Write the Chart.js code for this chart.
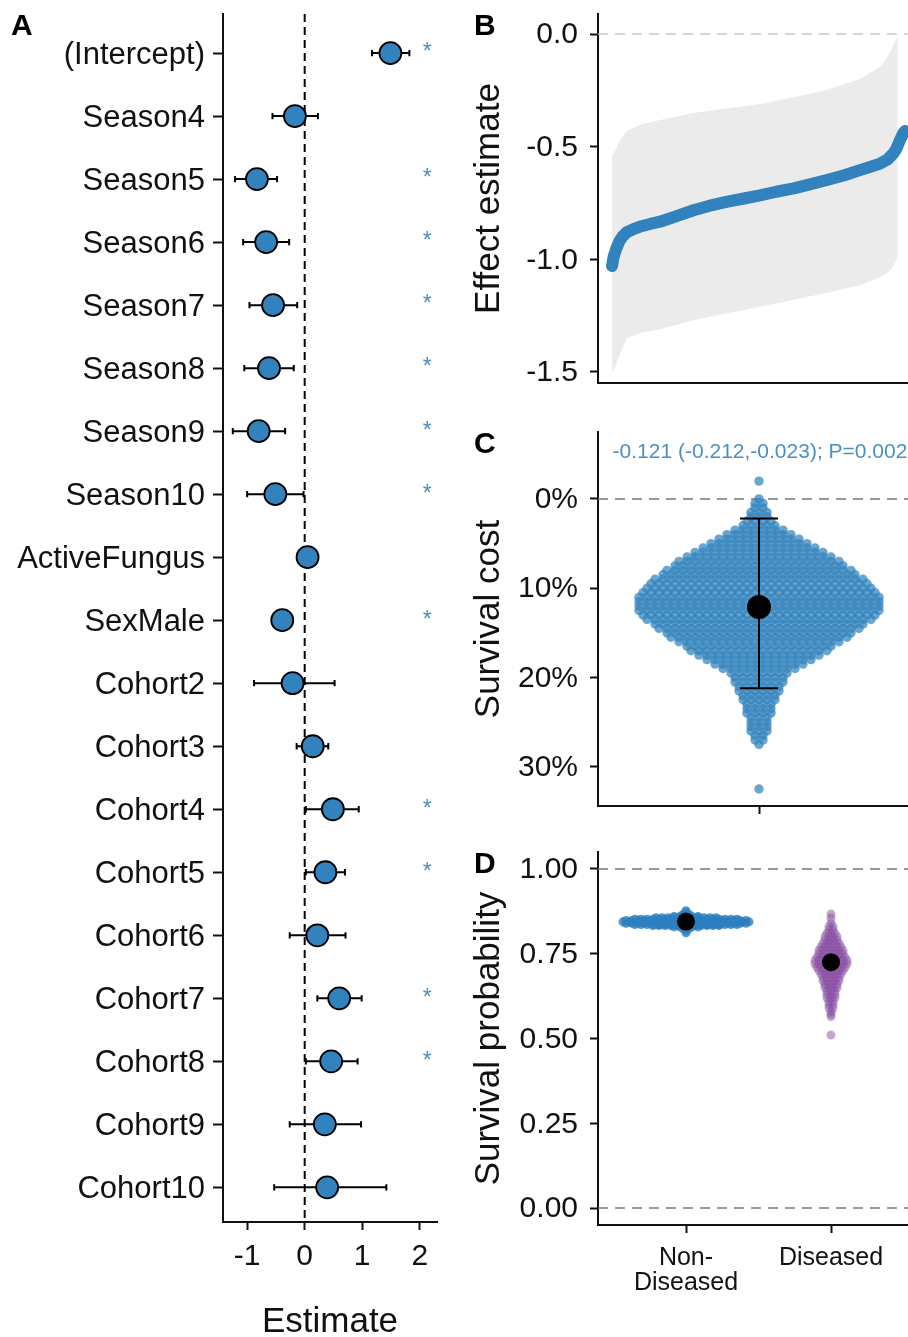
<!DOCTYPE html>
<html>
<head>
<meta charset="utf-8">
<title>Survival cost figure</title>
<script src="https://cdn.jsdelivr.net/npm/chart.js@4.4.1/dist/chart.umd.min.js"></script>
<style>
  html, body { margin: 0; padding: 0; background: #fff; }
  body { position: relative; width: 908px; height: 1337px; overflow: hidden;
         font-family: 'Liberation Sans', Arial, sans-serif; color: #000; }
  canvas { position: absolute; }
  .tag { position: absolute; font-size: 30px; font-weight: bold; line-height: 1; }
  #note { position: absolute; left: 760px; top: 440px; transform: translateX(-50%);
          font-size: 21px; line-height: 1; color: #4a90c4; white-space: nowrap; }
</style>
</head>
<body>
<canvas id="chartA" width="460" height="1337" style="left:0;top:0"></canvas>
<canvas id="chartB" width="448" height="400" style="left:460px;top:0"></canvas>
<canvas id="chartC" width="448" height="420" style="left:460px;top:400px"></canvas>
<canvas id="chartD" width="448" height="517" style="left:460px;top:820px"></canvas>
<div class="tag" style="left:11px;top:10px">A</div>
<div class="tag" style="left:474px;top:10px">B</div>
<div class="tag" style="left:474px;top:428px">C</div>
<div class="tag" style="left:474px;top:848px">D</div>
<div id="note">-0.121 (-0.212,-0.023); P=0.002</div>
<script>
// panel A - model coefficients with 95% intervals
const aTerms = ['(Intercept)', 'Season4', 'Season5', 'Season6', 'Season7', 'Season8', 'Season9',
  'Season10', 'ActiveFungus', 'SexMale', 'Cohort2', 'Cohort3', 'Cohort4', 'Cohort5', 'Cohort6',
  'Cohort7', 'Cohort8', 'Cohort9', 'Cohort10'];
const aEst  = [1.49, -0.17, -0.83, -0.67, -0.55, -0.62, -0.80, -0.51, 0.05, -0.39, -0.21, 0.14, 0.49, 0.36, 0.22, 0.60, 0.46, 0.35, 0.39];
const aLow  = [1.17, -0.56, -1.21, -1.07, -0.96, -1.05, -1.25, -1.00, 0.01, -0.43, -0.88, -0.14, 0.02, 0.02, -0.26, 0.22, 0.02, -0.26, -0.53];
const aHigh = [1.82, 0.23, -0.48, -0.27, -0.13, -0.19, -0.34, -0.02, 0.09, -0.35, 0.52, 0.41, 0.94, 0.70, 0.71, 0.99, 0.92, 0.98, 1.42];
const aSig  = [1, 0, 1, 1, 1, 1, 1, 1, 0, 1, 0, 0, 1, 1, 0, 1, 1, 0, 0];
const aXTicks = [-1, 0, 1, 2];

// panel B - sorted effect estimates with interval band
const bRank = [0, 0.5, 1.5, 2.5, 3.5, 5, 7.5, 10, 13, 16.4, 22, 27.8, 33, 39, 45, 50.5, 56, 62, 67.5, 73, 79, 84.6, 88, 91.5, 94, 96, 97, 98.3, 99.4, 100];
const bEst  = [-1.03, -0.99, -0.95, -0.92, -0.9, -0.88, -0.865, -0.853, -0.843, -0.833, -0.808, -0.782, -0.763, -0.745, -0.73, -0.716, -0.70, -0.685, -0.667, -0.649, -0.628, -0.604, -0.59, -0.575, -0.557, -0.53, -0.51, -0.47, -0.44, -0.43];
const bBandRank = [0, 1, 2.7, 5, 10, 16.4, 27.8, 39, 50.5, 62, 73, 84.6, 91.5, 94, 96, 97.5];
const bLow  = [-1.50, -1.48, -1.42, -1.35, -1.325, -1.31, -1.27, -1.24, -1.21, -1.18, -1.15, -1.115, -1.08, -1.06, -1.03, -0.99];
const bHigh = [-0.54, -0.52, -0.47, -0.43, -0.40, -0.382, -0.35, -0.33, -0.31, -0.28, -0.25, -0.20, -0.145, -0.10, -0.05, -0.01];
const bYTicks = [0, -0.5, -1, -1.5];

// panel C - survival cost draws (counts per 0.5% bin) and summary
const cBins = [-2, 0, 0.5, 1, 1.5, 2, 2.5, 3, 3.5, 4, 4.5, 5, 5.5, 6, 6.5, 7, 7.5, 8, 8.5, 9, 9.5, 10,
  10.5, 11, 11.5, 12, 12.5, 13, 13.5, 14, 14.5, 15, 15.5, 16, 16.5, 17, 17.5, 18, 18.5, 19, 19.5, 20,
  20.5, 21, 21.5, 22, 22.5, 23, 23.5, 24, 24.5, 25, 25.5, 26, 26.5, 27, 27.5, 32.5];
const cCounts = [1, 1, 2, 2, 3, 3, 4, 5, 7, 9, 11, 13, 15, 17, 19, 21, 22, 24, 25, 27, 28, 29,
  30, 31, 31, 31, 31, 30, 29, 27, 26, 24, 23, 21, 19, 18, 16, 14, 12, 10, 8, 7,
  7, 6, 6, 5, 5, 4, 4, 4, 3, 3, 3, 3, 2, 2, 1, 1];
const cMean = 12.1, cLow = 2.2, cHigh = 21.2;
const cYTicks = [0, 10, 20, 30];

// panel D - survival probability draws by group
const dCatLabels = [['Non-', 'Diseased'], 'Diseased'];
const dNonLevels = [0.812, 0.818, 0.824, 0.829, 0.833, 0.836, 0.840, 0.844, 0.848, 0.852, 0.856, 0.860, 0.866, 0.872, 0.877];
const dNonCounts = [1, 1, 2, 5, 12, 18, 21, 22, 21, 18, 11, 5, 2, 1, 1];
const dDisLevels = [0.51, 0.565, 0.572, 0.58, 0.59, 0.60, 0.61, 0.62, 0.63, 0.64, 0.65, 0.66, 0.67, 0.68,
  0.69, 0.70, 0.71, 0.72, 0.73, 0.74, 0.75, 0.76, 0.77, 0.78, 0.79, 0.80, 0.81, 0.82, 0.83, 0.84, 0.855, 0.867];
const dDisCounts = [1, 1, 1, 1, 2, 2, 2, 3, 3, 3, 4, 4, 5, 5, 6, 7, 8, 9, 9, 8, 7, 7, 6, 5, 4, 4, 3, 2, 2, 1, 1, 1];
const dMeans = [0.845, 0.725];
const dYTicks = [0, 0.25, 0.5, 0.75, 1];

// look & layout
const INK = '#111';
const BLUE = '#3182bd';
const FONT = "'Liberation Sans', Arial, sans-serif";
const dCatPos = [0, 145];

Chart.defaults.font.family = FONT;
Chart.defaults.color = INK;
Chart.defaults.animation = false;
Chart.defaults.events = [];
Chart.defaults.plugins.legend.display = false;
Chart.defaults.plugins.tooltip.enabled = false;

function fixSize(px) {
  return function (s) {
    if (s.isHorizontal()) s.height = px; else s.width = px;
    s.paddingLeft = s.paddingRight = s.paddingTop = s.paddingBottom = 0;
  };
}

function setTicks(values) {
  return function (s) { s.ticks = values.map(v => ({ value: v })); };
}

// turn [x1, y1, x2, y2] pieces into one broken line
function segments(list) {
  const pts = [];
  list.forEach(s => pts.push({ x: s[0], y: s[1] }, { x: s[2], y: s[3] }, { x: null, y: null }));
  return pts;
}

// side by side layout of points that share a value
function swarm(levels, counts, center, gap) {
  const pts = [];
  levels.forEach((lv, i) => {
    const n = counts[i];
    for (let k = 0; k < n; k++) pts.push({ x: center + (k - (n - 1) / 2) * gap, y: lv });
  });
  return pts;
}

const tickGrid = { drawOnChartArea: false, tickLength: 8, tickWidth: 2, tickColor: INK };
const axisLine = { color: INK, width: 2 };

// ---------- A ----------
const aYMin = 0.38, aYMax = 19.55;
const aBars = [];
aTerms.forEach((t, i) => {
  const r = i + 1;
  aBars.push([aLow[i], r, aHigh[i], r]);
  aBars.push([aLow[i], r - 0.05, aLow[i], r + 0.05]);
  aBars.push([aHigh[i], r - 0.05, aHigh[i], r + 0.05]);
});

const starPlugin = {
  id: 'stars',
  afterDatasetsDraw(chart) {
    const { ctx, scales: { x, y } } = chart;
    ctx.save();
    ctx.fillStyle = '#4a90c4';
    ctx.font = '23px ' + FONT;
    ctx.textAlign = 'center';
    ctx.textBaseline = 'middle';
    aSig.forEach((s, i) => {
      if (s) ctx.fillText('*', x.getPixelForValue(2.13), y.getPixelForValue(i + 1));
    });
    ctx.restore();
  }
};

new Chart(document.getElementById('chartA'), {
  type: 'line',
  data: {
    datasets: [
      { data: aEst.map((v, i) => ({ x: v, y: i + 1 })), showLine: false,
        pointRadius: 11, pointBackgroundColor: BLUE, pointBorderColor: '#000', pointBorderWidth: 1.8 },
      { data: segments(aBars), borderColor: '#000', borderWidth: 2, pointRadius: 0, spanGaps: false },
      { data: [{ x: 0, y: aYMin }, { x: 0, y: aYMax }], borderColor: '#000', borderWidth: 2,
        borderDash: [8, 5], pointRadius: 0 }
    ]
  },
  options: {
    responsive: false,
    layout: { autoPadding: false, padding: { left: 0, right: 23, top: 14, bottom: 0 } },
    scales: {
      x: {
        type: 'linear', min: -1.42, max: 2.30,
        afterBuildTicks: setTicks(aXTicks),
        ticks: { font: { size: 30 }, color: INK, padding: 9, maxRotation: 0, autoSkip: false,
                 callback: v => String(v) },
        grid: tickGrid, border: axisLine,
        title: { display: true, text: 'Estimate', font: { size: 35 }, color: INK, padding: { top: 0, bottom: -6 } },
        afterFit: fixSize(115)
      },
      y: {
        type: 'linear', reverse: true, min: aYMin, max: aYMax,
        afterBuildTicks: setTicks(aTerms.map((t, i) => i + 1)),
        ticks: { font: { size: 31 }, color: INK, padding: 8, autoSkip: false, labelOffset: 2,
                 callback: v => aTerms[Math.round(v) - 1] },
        grid: Object.assign({}, tickGrid, { tickLength: 10 }), border: axisLine,
        afterFit: fixSize(223)
      }
    }
  },
  plugins: [starPlugin]
});

// ---------- B ----------
const bXMin = -4.8, bXMax = 101;
new Chart(document.getElementById('chartB'), {
  type: 'line',
  data: {
    datasets: [
      { data: bRank.map((r, i) => ({ x: r, y: bEst[i] })), borderColor: BLUE, borderWidth: 12,
        borderCapStyle: 'round', borderJoinStyle: 'round', pointRadius: 0 },
      { data: [{ x: bXMin, y: 0 }, { x: bXMax, y: 0 }], borderColor: '#c8c8c8', borderWidth: 1.5,
        borderDash: [10, 7], pointRadius: 0 },
      { data: bBandRank.map((r, i) => ({ x: r, y: bHigh[i] })), borderWidth: 0, pointRadius: 0,
        fill: '+1', backgroundColor: '#ebebeb' },
      { data: bBandRank.map((r, i) => ({ x: r, y: bLow[i] })), borderWidth: 0, pointRadius: 0 }
    ]
  },
  options: {
    responsive: false,
    layout: { autoPadding: false, padding: { left: 0, right: 0, top: 14, bottom: 0 } },
    scales: {
      x: { type: 'linear', min: bXMin, max: bXMax, ticks: { display: false },
           grid: { display: false }, border: axisLine, afterFit: fixSize(17) },
      y: {
        type: 'linear', min: -1.549, max: 0.089,
        afterBuildTicks: setTicks(bYTicks),
        ticks: { font: { size: 30 }, color: INK, padding: 12, labelOffset: 1, callback: v => v.toFixed(1) },
        grid: tickGrid, border: axisLine,
        title: { display: true, text: 'Effect estimate', font: { size: 35 }, color: INK, padding: { top: 8, bottom: 0 } },
        afterFit: fixSize(138)
      }
    }
  }
});

// ---------- C ----------
const cCap = 19;
new Chart(document.getElementById('chartC'), {
  type: 'line',
  data: {
    datasets: [
      { data: [{ x: 0, y: cMean }], showLine: false, pointRadius: 12, pointBackgroundColor: '#000', pointBorderWidth: 0 },
      { data: segments([[0, cLow, 0, cHigh], [-cCap, cLow, cCap, cLow], [-cCap, cHigh, cCap, cHigh]]),
        borderColor: '#000', borderWidth: 2, pointRadius: 0, spanGaps: false },
      { data: swarm(cBins, cCounts, 0, 8), showLine: false, pointRadius: 4.7,
        pointBackgroundColor: 'rgba(49,130,189,0.72)', pointBorderWidth: 0 },
      { data: [{ x: -161, y: 0 }, { x: 149, y: 0 }], borderColor: '#777', borderWidth: 1.5,
        borderDash: [10, 7], pointRadius: 0 }
    ]
  },
  options: {
    responsive: false,
    layout: { autoPadding: false, padding: { left: 0, right: 0, top: 32, bottom: 0 } },
    scales: {
      x: { type: 'linear', min: -161, max: 149, afterBuildTicks: setTicks([0]),
           ticks: { display: false }, grid: tickGrid, border: axisLine, afterFit: fixSize(14) },
      y: {
        type: 'linear', reverse: true, min: -7.5, max: 34.4,
        afterBuildTicks: setTicks(cYTicks),
        ticks: { font: { size: 30 }, color: INK, padding: 12, labelOffset: 1, callback: v => v + '%' },
        grid: tickGrid, border: axisLine,
        title: { display: true, text: 'Survival cost', font: { size: 35 }, color: INK, padding: { top: 8, bottom: 0 } },
        afterFit: fixSize(138)
      }
    }
  }
});

// ---------- D ----------
new Chart(document.getElementById('chartD'), {
  type: 'line',
  data: {
    datasets: [
      { data: dMeans.map((m, i) => ({ x: dCatPos[i], y: m })), showLine: false, pointRadius: 9,
        pointBackgroundColor: '#000', pointBorderWidth: 0 },
      { data: swarm(dDisLevels, dDisCounts, dCatPos[1], 4), showLine: false, pointRadius: 4.5,
        pointBackgroundColor: 'rgba(137,80,163,0.5)', pointBorderWidth: 0 },
      { data: swarm(dNonLevels, dNonCounts, dCatPos[0], 6), showLine: false, pointRadius: 4.5,
        pointBackgroundColor: 'rgba(46,127,192,0.8)', pointBorderWidth: 0 },
      { data: segments([[-88, 1, 222, 1], [-88, 0, 222, 0]]), borderColor: '#777', borderWidth: 1.5,
        borderDash: [10, 7], pointRadius: 0, spanGaps: false }
    ]
  },
  options: {
    responsive: false,
    layout: { autoPadding: false, padding: { left: 0, right: 0, top: 32, bottom: 0 } },
    scales: {
      x: {
        type: 'linear', min: -88, max: 222, afterBuildTicks: setTicks(dCatPos),
        ticks: { font: { size: 25, lineHeight: 1.0 }, color: INK, padding: 13, maxRotation: 0, autoSkip: false,
                 callback: (v, i) => dCatLabels[i] },
        grid: tickGrid, border: axisLine, afterFit: fixSize(112)
      },
      y: {
        type: 'linear', min: -0.05, max: 1.05,
        afterBuildTicks: setTicks(dYTicks),
        ticks: { font: { size: 30 }, color: INK, padding: 12, labelOffset: 1, callback: v => v.toFixed(2) },
        grid: tickGrid, border: axisLine,
        title: { display: true, text: 'Survival probability', font: { size: 35 }, color: INK, padding: { top: 8, bottom: 0 } },
        afterFit: fixSize(138)
      }
    }
  }
});
</script>
</body>
</html>
